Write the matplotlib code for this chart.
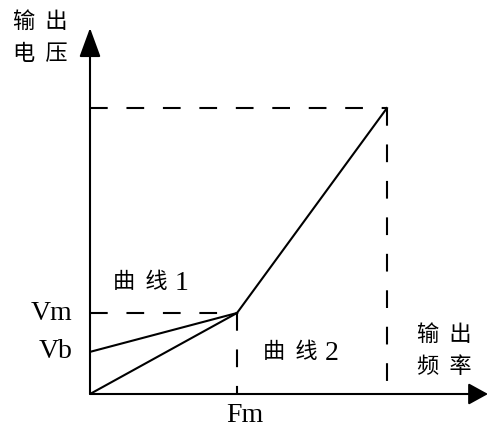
import matplotlib
matplotlib.use("Agg")
import matplotlib.pyplot as plt

plt.rcParams['font.family'] = ['Liberation Serif', 'Noto Sans CJK SC', 'DejaVu Sans']

# key points (Fm = 1, Vm = 1 as units)
Fm = 1.0
Fmax = 2.02
Vm = 1.0
Vb = 0.52
Vmax = 3.53

curve1_x = [0, Fm]
curve1_y = [Vb, Vm]
curve2_x = [0, Fm]
curve2_y = [0, Vm]
upper_x = [Fm, Fmax]
upper_y = [Vm, Vmax]

fig = plt.figure(figsize=(4.88, 4.30), dpi=100)
# origin at pixel (90, 394)
ax = fig.add_axes([90 / 488, 36 / 430, 398 / 488, 366 / 430])
xmax = 398 / 147
ymax = 366 / 81
ax.set_xlim(0, xmax)
ax.set_ylim(0, ymax)
ax.axis('off')

lw = 1.5
ax.plot(curve1_x, curve1_y, color='k', lw=lw)
ax.plot(curve2_x, curve2_y, color='k', lw=lw)
ax.plot(upper_x, upper_y, color='k', lw=lw)

# dashed guides
dash = (8.5, 9)
ax.plot([0, Fm], [Vm, Vm], color='k', lw=lw, dashes=dash)
ax.plot([Fm, Fm], [Vm, 0], color='k', lw=lw, dashes=dash)
ax.plot([0, Fmax], [Vmax, Vmax], color='k', lw=lw, dashes=dash)
ax.plot([Fmax, Fmax], [Vmax, 0], color='k', lw=lw, dashes=dash)

# axes with arrows
ax.annotate('', xy=(0, ymax), xytext=(0, 0), annotation_clip=False,
            arrowprops=dict(arrowstyle='-|>,head_length=0.6,head_width=0.22',
                            lw=lw, color='k', mutation_scale=30,
                            shrinkA=0, shrinkB=0))
ax.annotate('', xy=(xmax, 0), xytext=(0, 0), annotation_clip=False,
            arrowprops=dict(arrowstyle='-|>,head_length=0.4,head_width=0.22',
                            lw=lw, color='k', mutation_scale=30,
                            shrinkA=0, shrinkB=0))

# labels
lat = 20
cjk = 16
sp = ' \u2009'
ax.text(-0.122, Vm, 'Vm', fontsize=lat, ha='right', va='center')
ax.text(-0.122, Vb, 'Vb', fontsize=lat, ha='right', va='center')
ax.text(1.054, -0.26, 'Fm', fontsize=lat, ha='center', va='center')

ax.text(0.156, 1.37, sp.join(['曲', '线']), fontsize=cjk, ha='left',
        va='center', fontweight='light')
ax.text(0.575, 1.37, '1', fontsize=lat, ha='left', va='center')
ax.text(1.177, 0.506, sp.join(['曲', '线']), fontsize=cjk, ha='left',
        va='center', fontweight='light')
ax.text(1.6, 0.506, '2', fontsize=lat, ha='left', va='center')

ax.text(-0.524, 4.58, sp.join(['输', '出']), fontsize=cjk, ha='left',
        va='center', fontweight='light')
ax.text(-0.524, 4.185, sp.join(['电', '压']), fontsize=cjk, ha='left',
        va='center', fontweight='light')
ax.text(2.224, 0.716, sp.join(['输', '出']), fontsize=cjk, ha='left',
        va='center', fontweight='light')
ax.text(2.224, 0.321, sp.join(['频', '率']), fontsize=cjk, ha='left',
        va='center', fontweight='light')

fig.savefig('out.png', dpi=100)
